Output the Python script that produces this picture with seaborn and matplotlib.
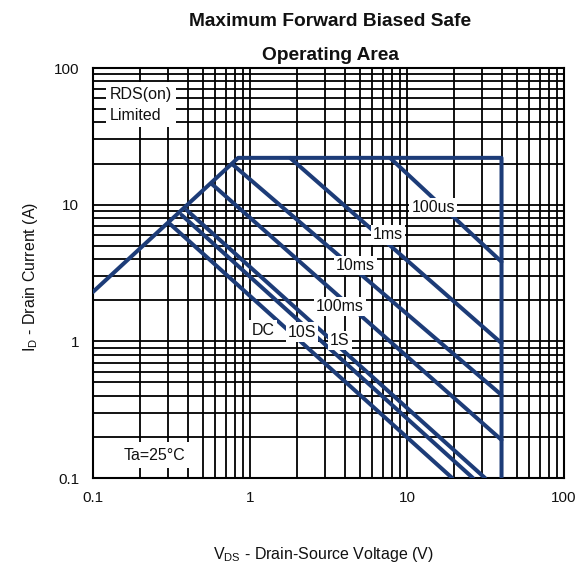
import matplotlib
matplotlib.use('Agg')
import matplotlib.pyplot as plt
import seaborn as sns
import pandas as pd

# curves (V in volts, I in amps)
limit_v = [0.1, 0.84, 40, 40]
limit_i = [2.3, 22, 22, 0.1]
us100_v = [7.8, 40]
us100_i = [22, 3.82]
ms1_v = [1.8, 40]
ms1_i = [22, 0.97]
ms10_v = [0.77, 40]
ms10_i = [19.8, 0.405]
ms100_v = [0.57, 40]
ms100_i = [14.2, 0.19]
s1_v = [0.395, 31.4]
s1_i = [9.13, 0.1]
s10_v = [0.367, 26.3]
s10_i = [8.4, 0.1]
dc_v = [0.31, 19.4]
dc_i = [7.21, 0.1]

tick_vals = [0.1, 1, 10, 100]
tick_labels = ['0.1', '1', '10', '100']

curves = {
    'limit': (limit_v, limit_i),
    '100us': (us100_v, us100_i),
    '1ms': (ms1_v, ms1_i),
    '10ms': (ms10_v, ms10_i),
    '100ms': (ms100_v, ms100_i),
    '1S': (s1_v, s1_i),
    '10S': (s10_v, s10_i),
    'DC': (dc_v, dc_i),
}
rows = []
for name, (vv, ii) in curves.items():
    for k, (v, i) in enumerate(zip(vv, ii)):
        rows.append({'curve': name, 'order': k, 'V': v, 'I': i})
df = pd.DataFrame(rows)

sns.set_style('white')
plt.rcParams['font.family'] = ['Liberation Sans', 'DejaVu Sans']
plt.rcParams['mathtext.fontset'] = 'custom'
plt.rcParams['mathtext.rm'] = 'Liberation Sans'
# black text like the datasheet
plt.rcParams['text.color'] = '#111111'
plt.rcParams['axes.labelcolor'] = '#111111'
plt.rcParams['xtick.color'] = '#111111'
plt.rcParams['ytick.color'] = '#111111'

blue = '#1d3c78'
fig = plt.figure(figsize=(5.82, 5.68), dpi=100)
ax = fig.add_axes([93/582, 1-478/568, 471/582, 410/568])

sns.lineplot(data=df, x='V', y='I', hue='curve', units='curve', estimator=None,
             sort=False, palette=[blue]*len(curves), linewidth=2.9,
             legend=False, ax=ax, zorder=3)

ax.set_xscale('log')
ax.set_yscale('log')
ax.set_xlim(0.1, 100)
ax.set_ylim(0.1, 100)
ax.grid(True, which='both', color='black', linewidth=1.3)
ax.set_axisbelow(True)
for s in ax.spines.values():
    s.set_color('black')
    s.set_linewidth(1.5)

ax.set_xticks(tick_vals)
ax.set_xticklabels(tick_labels)
ax.set_yticks(tick_vals)
ax.set_yticklabels(tick_labels)
ax.minorticks_on()
ax.tick_params(which='both', length=0, labelsize=11)
ax.tick_params(axis='x', pad=9)
ax.tick_params(axis='y', pad=10)

ax.set_xlabel(r'V$_{\mathrm{DS}}$ - Drain-Source Voltage (V)', fontsize=11.5)
ax.set_ylabel(r'I$_{\mathrm{D}}$ - Drain Current (A)', fontsize=11.5)
ax.xaxis.set_label_coords(0.49, -0.163)
ax.yaxis.set_label_coords(-0.112, 0.49)

fig.text(0.567, 1-22/568, 'Maximum Forward Biased Safe', ha='center', va='center',
         fontsize=13.8, fontweight='bold')
fig.text(0.567, 1-55/568, 'Operating Area', ha='center', va='center',
         fontsize=13.8, fontweight='bold')

box = dict(facecolor='white', edgecolor='none', pad=1.5)
lab = dict(fontsize=11.5, ha='center', va='center', bbox=box, zorder=5)
ax.text(14.7, 9.6, '100us', **lab)
ax.text(7.56, 6.0, '1ms', **lab)
ax.text(4.67, 3.61, '10ms', **lab)
ax.text(3.74, 1.81, '100ms', **lab)
ax.text(3.74, 1.02, '1S', **lab)
ax.text(2.14, 1.17, '10S', **lab)
ax.text(1.21, 1.21, 'DC', **lab)
ax.text(0.248, 0.147, 'Ta=25°C', fontsize=11.5, ha='center', va='center',
        bbox=dict(facecolor='white', edgecolor='none', pad=4), zorder=5)
ax.text(0.128, 54, 'RDS(on)\nLimited', fontsize=11.5, ha='left', va='center',
        linespacing=1.5, bbox=dict(facecolor='white', edgecolor='none', pad=3), zorder=5)

fig.savefig('out.png', dpi=100)
